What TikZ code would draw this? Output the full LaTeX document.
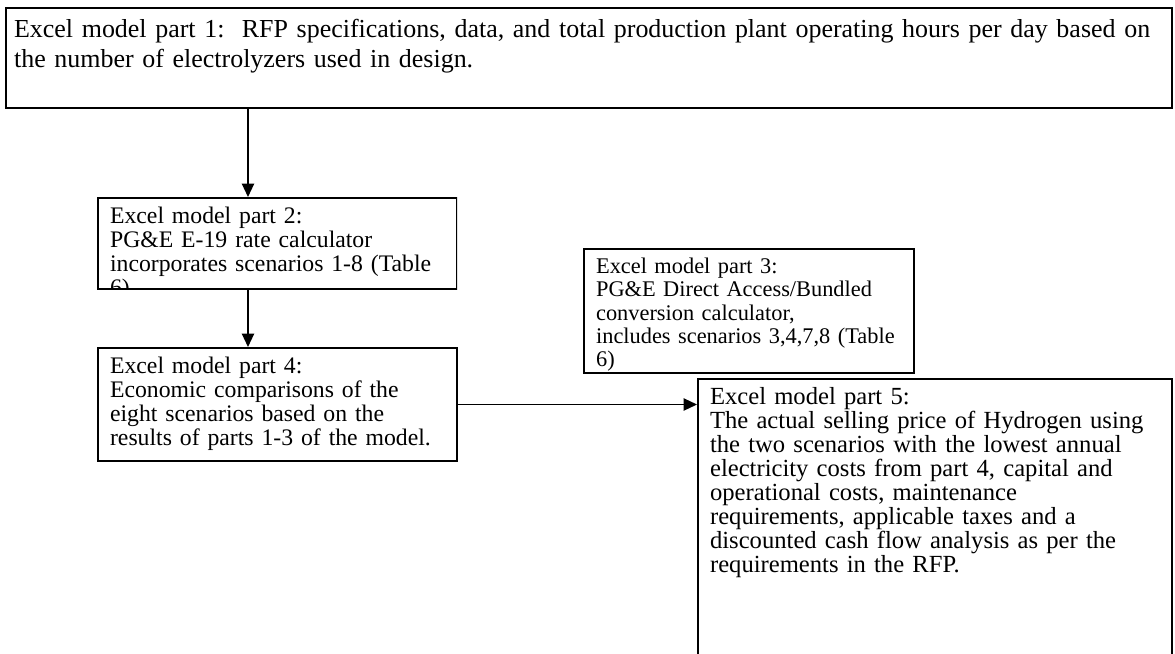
\documentclass[tikz,border=0pt]{standalone}
\usepackage{fontspec}
\setmainfont{Liberation Serif}
\usetikzlibrary{arrows.meta}
\hyphenpenalty=10000
\exhyphenpenalty=10000
\tikzstyle{arrow} = [line width=0.7pt, -{Triangle[length=6pt, width=5.5pt]}]
\tikzstyle{block} = [rectangle, draw, line width=0.9pt, anchor=north west, align=left,
                     inner xsep=5.4pt, inner ysep=3pt, text height=8.6pt,
                     font=\frenchspacing\fontsize{10.6}{10.7}\selectfont]

\begin{document}
\begin{tikzpicture}[x=0.4469pt, y=-0.4469pt]
    \useasboundingbox (0,0) rectangle (1175,654);

    \node (part1) at (5,7) [block, inner xsep=3.6pt, text height=10pt, text width=514pt, text depth=28.7pt,
                            font=\frenchspacing\fontsize{11.6}{13.4}\selectfont]
          {Excel model part 1:\ \ RFP specifications, data, and total production plant operating hours per day based on\\the number of electrolyzers used in design.};
    % part 2 runs out of its box at the bottom
    \begin{scope}
        \clip (96,196) rectangle (457,289);
        \node (part2) at (97,197) [block, text width=149.7pt, text depth=26.1pt]
              {Excel model part 2:\\PG\&E E-19 rate calculator\\incorporates scenarios 1-8 (Table\\6)};
    \end{scope}
    \node (part3) at (583,248) [block, text width=136.8pt, text height=8pt, text depth=41.4pt,
                                font=\frenchspacing\fontsize{10}{10.4}\selectfont]
          {Excel model part 3:\\PG\&E Direct Access/Bundled\\conversion calculator,\\includes scenarios 3,4,7,8 (Table\\6)};
    \node (part4) at (97,347)  [block, text width=149.7pt, text depth=35.9pt]
          {Excel model part 4:\\Economic comparisons of the\\eight scenarios based on the\\results of parts 1-3 of the model.};
    \node (part5) at (697,378) [block, text width=201.1pt, text depth=130.2pt,
                                font=\frenchspacing\fontsize{11}{10.7}\selectfont]
          {Excel model part 5:\\The actual selling price of Hydrogen using\\the two scenarios with the lowest annual\\electricity costs from part 4, capital and\\operational costs, maintenance\\requirements, applicable taxes and a\\discounted cash flow analysis as per the\\requirements in the RFP.};

    \coordinate (down) at (248,0);
    \draw [arrow] (down |- part1.south) -- (down |- part2.north);
    \draw [arrow] (down |- part2.south) -- (down |- part4.north);
    \draw [arrow] (part4.east) -- (part5.west |- part4.east);
\end{tikzpicture}
\end{document}
